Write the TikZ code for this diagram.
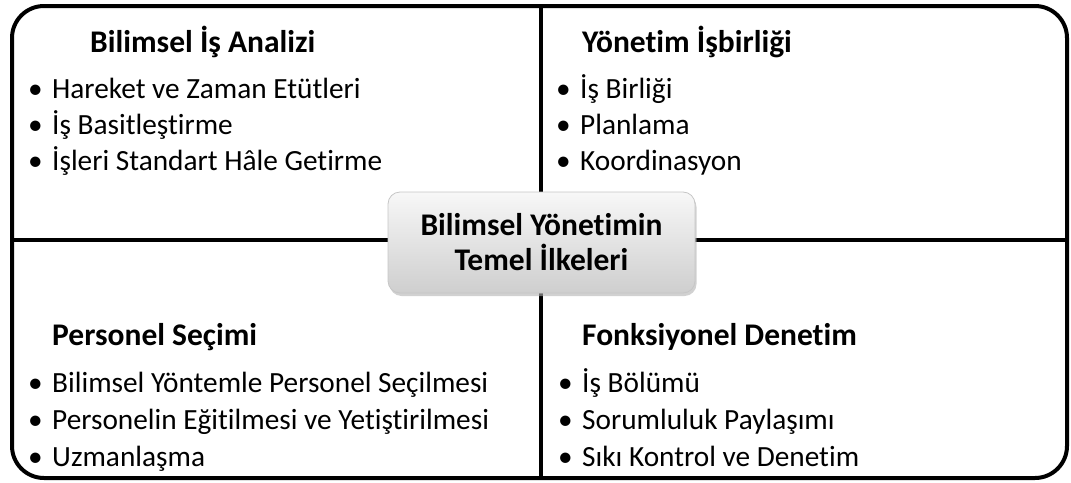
\documentclass[tikz,border=0pt]{standalone}
\usepackage{fontspec}
\setmainfont{Carlito}[Ligatures=NoCommon]
\usetikzlibrary{shadows}
\begin{document}
\begin{tikzpicture}[x=1pt,y=-1pt,
  frame/.style={line width=4pt, rounded corners=32pt},
  divider/.style={line width=4pt},
  ttl/.style={anchor=base west, inner sep=0pt, font=\fontsize{31.5}{38}\selectfont\bfseries},
  itm/.style={anchor=base west, inner sep=0pt, font=\fontsize{29.3}{36}\selectfont},
  hub/.style={rounded corners=12pt, draw=gray!45, line width=0.8pt,
    top color=gray!6, middle color=gray!14, bottom color=gray!38,
    minimum width=307pt, minimum height=101pt, align=center, inner sep=0pt,
    font=\fontsize{31.5}{35}\selectfont\bfseries,
    drop shadow={shadow xshift=1.5pt, shadow yshift=-3pt, fill=gray!60, opacity=0.6}}
]
\useasboundingbox (0,0) rectangle (1071,482);
% frame and dividers
\coordinate (nw) at (12,6);
\coordinate (se) at (1067,478);
\coordinate (vt) at (541,6);
\coordinate (vb) at (541,478);
\coordinate (hl) at (12,240);
\coordinate (hr) at (1067,240);
\draw[frame] (nw) rectangle (se);
\draw[divider] (vt) -- (vb);
\draw[divider] (hl) -- (hr);
% hub
\node[hub] (hubnode) at (541.5,242.5) {Bilimsel Yönetimin\\Temel İlkeleri};
% top left
\node[ttl] (t1) at (90,52) {Bilimsel İş Analizi};
\node[itm] (a1) at (28,98) {\makebox[24pt][l]{•}Hareket ve Zaman Etütleri};
\node[itm] (a2) at (28,134) {\makebox[24pt][l]{•}İş Basitleştirme};
\node[itm] (a3) at (28,170) {\makebox[24pt][l]{•}İşleri Standart Hâle Getirme};
% top right
\node[ttl] (t2) at (582,52) {Yönetim İşbirliği};
\node[itm] (b1) at (556,98) {\makebox[24pt][l]{•}İş Birliği};
\node[itm] (b2) at (556,134) {\makebox[24pt][l]{•}Planlama};
\node[itm] (b3) at (556,170) {\makebox[24pt][l]{•}Koordinasyon};
% bottom left
\node[ttl] (t3) at (52,345) {Personel Seçimi};
\node[itm] (c1) at (28,392) {\makebox[24pt][l]{•}Bilimsel Yöntemle Personel Seçilmesi};
\node[itm] (c2) at (28,429) {\makebox[24pt][l]{•}Personelin Eğitilmesi ve Yetiştirilmesi};
\node[itm] (c3) at (28,466) {\makebox[24pt][l]{•}Uzmanlaşma};
% bottom right
\node[ttl] (t4) at (582,345) {Fonksiyonel Denetim};
\node[itm] (d1) at (558,392) {\makebox[24pt][l]{•}İş Bölümü};
\node[itm] (d2) at (558,429) {\makebox[24pt][l]{•}Sorumluluk Paylaşımı};
\node[itm] (d3) at (558,466) {\makebox[24pt][l]{•}Sıkı Kontrol ve Denetim};
\end{tikzpicture}
\end{document}
